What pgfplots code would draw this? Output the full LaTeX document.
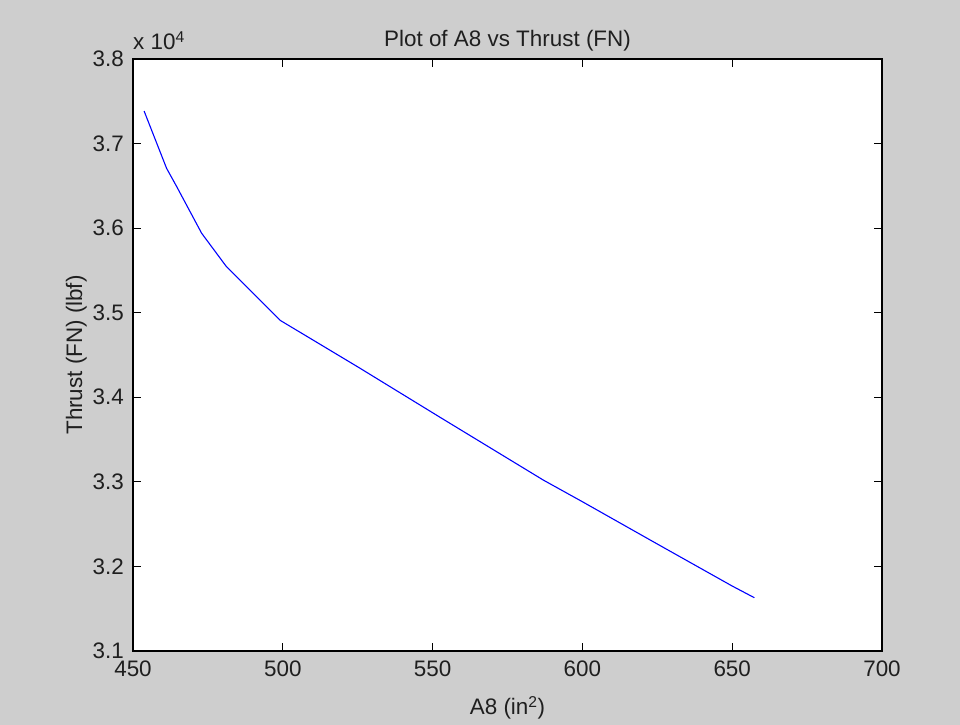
\documentclass[border=0pt]{standalone}
\usepackage{pgfplots}
\pgfplotsset{compat=1.18}
\usepackage{fontspec}
\setmainfont{Liberation Sans}
\definecolor{figgray}{RGB}{206,206,206}
\begin{document}
\begin{tikzpicture}[x=1bp,y=1bp]
\useasboundingbox (0,0) rectangle (960,725);
\fill[figgray] (0,0) rectangle (960,725);
\begin{axis}[
  at={(133bp,74bp)}, anchor=south west,
  scale only axis, width=749bp, height=592bp,
  xmin=450, xmax=700, ymin=31000, ymax=38000,
  xtick={450,500,...,700},
  ytick={31000,32000,...,38000},
  yticklabels={3.1,3.2,3.3,3.4,3.5,3.6,3.7,3.8},
  scaled y ticks=false, scaled x ticks=false,
  axis background/.style={fill=white},
  axis line style={black, line width=1.2bp},
  tick style={black, line width=1.2bp},
  major tick length=8bp,
  tick align=inside,
  /pgf/number format/assume math mode=true,
  ticklabel style={font=\fontsize{22.5}{26}\selectfont, text=black!88, inner sep=0pt},
  xticklabel style={yshift=-10bp},
  yticklabel style={xshift=-9bp},
  every axis title shift=0pt,
  title={Plot of A8 vs Thrust (FN)},
  title style={at={([yshift=12bp]rel axis cs:0.5,1)}, anchor=base, inner sep=0pt,
    font=\fontsize{22.5}{26}\selectfont, text=black!88},
  xlabel={A8 (in\textsuperscript{2})},
  ylabel={Thrust (FN) (lbf)},
  label style={font=\fontsize{22.5}{26}\selectfont, text=black!88, inner sep=0pt},
  xlabel style={at={([yshift=-64bp]rel axis cs:0.5,0)}, anchor=base},
  ylabel style={at={([xshift=-51bp]rel axis cs:0,0.5)}, anchor=base},
  clip=false,
]
\addplot[blue, line width=1.1bp] coordinates {
  (453.7,37385) (461.2,36708) (464.6,36490) (472.9,35940) (481.2,35544)
  (499.1,34910) (525,34360) (552.5,33763) (587,33020) (600,32765)
  (625,32265) (650,31768) (657.4,31630)
};
\node[anchor=base west, inner sep=0pt, font=\fontsize{22.5}{26}\selectfont, text=black!88] at (rel axis cs:0,1) [yshift=9bp] {x 10\textsuperscript{4}};
\end{axis}
\end{tikzpicture}
\end{document}
